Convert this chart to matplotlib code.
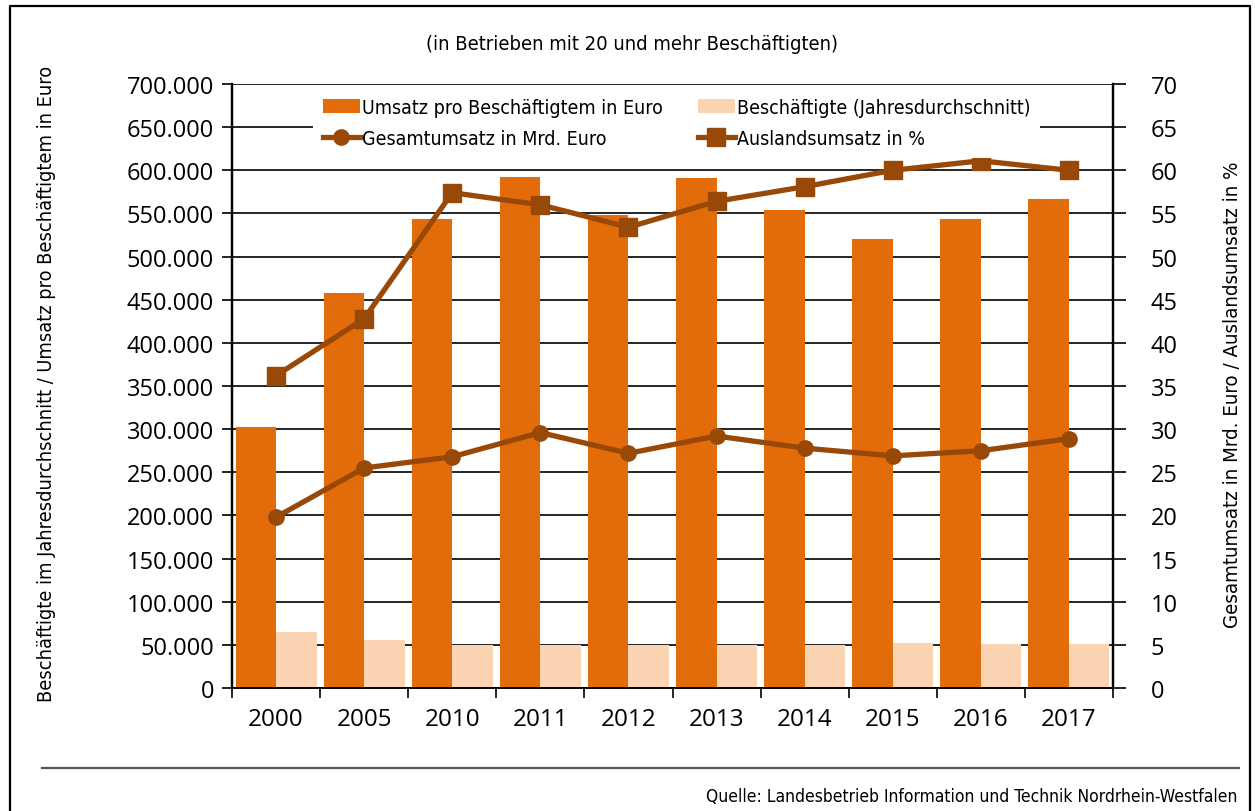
import matplotlib
matplotlib.use("Agg")
import matplotlib.pyplot as plt
from matplotlib.ticker import FuncFormatter, FixedLocator
from matplotlib.lines import Line2D
from matplotlib.patches import Patch
from matplotlib import font_manager as fm
import numpy as np

years = ["2000", "2005", "2010", "2011", "2012", "2013", "2014", "2015", "2016", "2017"]
umsatz_pro_besch = [302000, 458000, 543500, 592000, 548000, 591000, 554000, 520500, 543500, 567000]
beschaeftigte = [65000, 55600, 50000, 50000, 50000, 50000, 50000, 52400, 51000, 51000]
gesamtumsatz = [19.8, 25.5, 26.8, 29.6, 27.2, 29.2, 27.8, 26.9, 27.5, 28.9]
auslandsumsatz = [36.2, 42.8, 57.4, 56.0, 53.4, 56.4, 58.1, 60.0, 61.1, 60.0]

C_ORANGE = "#E36C0A"
C_LIGHT = "#FBD4B4"
C_LINE = "#984807"

# pick a condensed sans face if one is installed
cond = None
for e in fm.fontManager.ttflist:
    st = str(e.stretch).lower()
    if ("condensed" in st or st in ("semi-condensed",) or "narrow" in e.name.lower()) and e.style == "normal" \
            and e.weight in (400, "normal", "regular") and "Mono" not in e.name and "Serif" not in e.name:
        if cond is None or "Noto Sans" == e.name:
            cond = e
if cond is not None:
    NARROW = fm.FontProperties(fname=cond.fname)
else:
    NARROW = fm.FontProperties(family=["Roboto", "DejaVu Sans"])
TICKF = ["Open Sans", "DejaVu Sans"]

fig = plt.figure(figsize=(12.55, 8.12), dpi=100)
W, H = 1255, 812
ax = fig.add_axes([232 / W, 1 - 689 / H, (1113 - 232) / W, (689 - 85) / H])
ax2 = ax.twinx()

x = np.arange(len(years))
bw = 0.46
ax.bar(x - bw / 2, umsatz_pro_besch, width=bw, color=C_ORANGE, zorder=2)
ax.bar(x + bw / 2, beschaeftigte, width=bw, color=C_LIGHT, zorder=2)

ax.set_xlim(-0.5, len(years) - 0.5)
ax.set_ylim(0, 700000)
ax.yaxis.set_major_locator(FixedLocator(np.arange(0, 700001, 50000)))
ax.yaxis.set_major_formatter(FuncFormatter(lambda v, p: f"{int(v):,}".replace(",", ".")))
ax.grid(axis="y", color="black", linewidth=1.2)
ax.set_axisbelow(True)

ax.set_xticks(x)
ax.set_xticklabels(years)
ax.set_xticks(np.arange(-0.5, len(years), 1.0), minor=True)
ax.tick_params(axis="x", which="major", length=0, pad=14)
ax.tick_params(axis="x", which="minor", length=7, width=1.2, direction="out")
ax.tick_params(axis="y", length=7, width=1.2, direction="out", pad=6)
for lbl in ax.get_xticklabels():
    lbl.set_fontfamily(TICKF)
    lbl.set_fontsize(17.5)
for lbl in ax.get_yticklabels():
    lbl.set_fontfamily(TICKF)
    lbl.set_fontsize(17)

ax2.plot(x, gesamtumsatz, color=C_LINE, linewidth=3.8, marker="o", markersize=11, zorder=5)
ax2.plot(x, auslandsumsatz, color=C_LINE, linewidth=3.8, marker="s", markersize=13, zorder=5)
ax2.set_ylim(0, 70)
ax2.yaxis.set_major_locator(FixedLocator(np.arange(0, 71, 5)))
ax2.tick_params(axis="y", length=9, width=1.2, direction="out", pad=18)
for lbl in ax2.get_yticklabels():
    lbl.set_fontfamily(TICKF)
    lbl.set_fontsize(17)

for a in (ax, ax2):
    a.spines["top"].set_visible(False)
    a.spines["left"].set_linewidth(1.6)
    a.spines["right"].set_linewidth(1.6)
    a.spines["bottom"].set_linewidth(1.2)

renderer = fig.canvas.get_renderer()


def fit(t, target):
    bb = t.get_window_extent(renderer)
    w = max(bb.width, bb.height)
    t.set_fontsize(t.get_fontsize() * target / w)
    return t


# legend font size fitted to the reference label width
probe = fig.text(0, 0, "Umsatz pro Beschäftigtem in Euro", fontproperties=NARROW.copy(), fontsize=16)
fit(probe, 301)
leg_size = probe.get_fontsize()
probe.remove()

handles = [
    Patch(facecolor=C_ORANGE, edgecolor="none", label="Umsatz pro Beschäftigtem in Euro"),
    Line2D([], [], color=C_LINE, linewidth=3.8, marker="o", markersize=11, label="Gesamtumsatz in Mrd. Euro"),
    Patch(facecolor=C_LIGHT, edgecolor="none", label="Beschäftigte (Jahresdurchschnitt)"),
    Line2D([], [], color=C_LINE, linewidth=3.8, marker="s", markersize=13, label="Auslandsumsatz in %"),
]
lp = NARROW.copy()
lp.set_size(leg_size)
leg = ax2.legend(handles=handles, ncol=2, loc="upper center", bbox_to_anchor=(0.5045, 0.996),
                 frameon=True, facecolor="white", edgecolor="none", framealpha=1.0,
                 fancybox=False, handlelength=1.9, handletextpad=0.1, columnspacing=1.8,
                 labelspacing=0.6, borderpad=0.5, borderaxespad=0.1, prop=lp)
leg.set_zorder(10)

t1 = fig.text(632 / W, 1 - 45 / H, "(in Betrieben mit 20 und mehr Beschäftigten)", ha="center", va="center",
              fontproperties=NARROW.copy(), fontsize=16)
fit(t1, 417)
t2 = fig.text(47 / W, 1 - 384 / H, "Beschäftigte im Jahresdurchschnitt / Umsatz pro Beschäftigtem in Euro",
              rotation=90, ha="center", va="center", fontproperties=NARROW.copy(), fontsize=16)
fit(t2, 640)
t3 = fig.text(1233 / W, 1 - 395 / H, "Gesamtumsatz in Mrd. Euro / Auslandsumsatz in %",
              rotation=90, ha="center", va="center", fontproperties=NARROW.copy(), fontsize=16)
fit(t3, 470)
t4 = fig.text(1237 / W, 1 - 797 / H, "Quelle: Landesbetrieb Information und Technik Nordrhein-Westfalen",
              ha="right", va="center", fontproperties=NARROW.copy(), fontsize=13.5)
fit(t4, 528)

# separator line and frame
fig.add_artist(Line2D([42 / W, 1239 / W], [1 - 769 / H, 1 - 769 / H], color="#555555", linewidth=1.6))
fig.add_artist(Line2D([10 / W, 10 / W, 1250 / W, 1250 / W], [0, 1 - 7 / H, 1 - 7 / H, 0],
                      color="black", linewidth=1.6))

fig.savefig("out.png", dpi=100)
